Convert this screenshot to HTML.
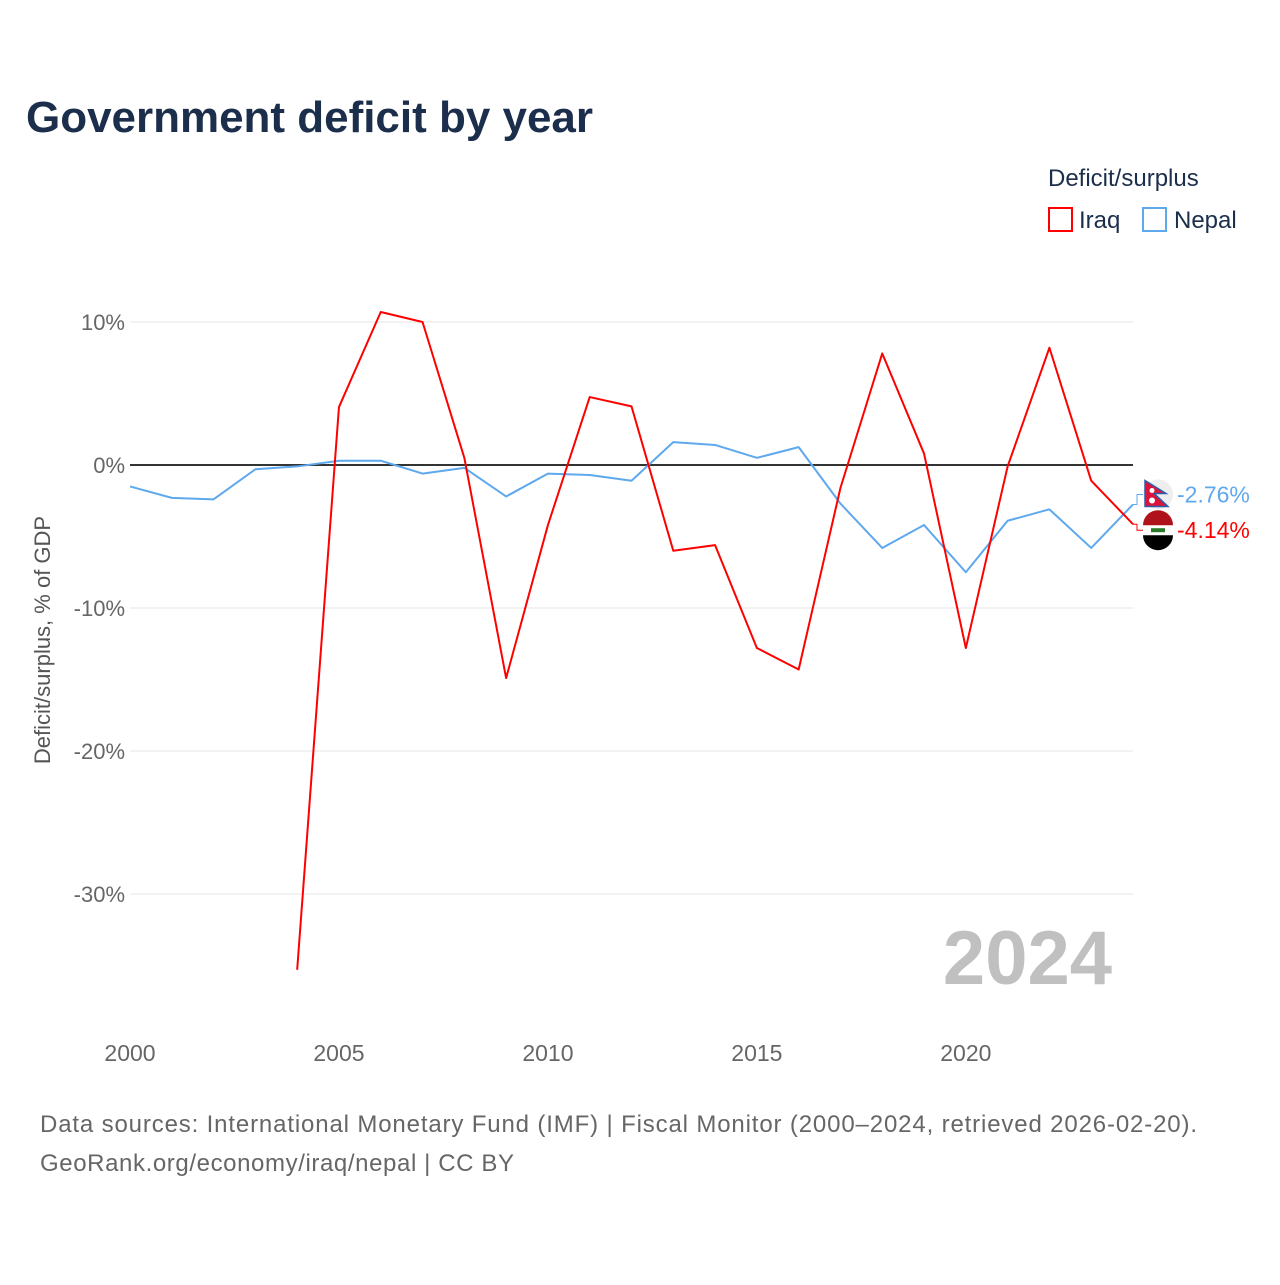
<!DOCTYPE html>
<html><head><meta charset="utf-8">
<style>
body{margin:0;background:#fff;font-family:"Liberation Sans",sans-serif;}
svg text{font-family:"Liberation Sans",sans-serif;}
</style></head>
<body>
<svg width="1280" height="1280" xmlns="http://www.w3.org/2000/svg">
<text x="26" y="132" font-size="44" font-weight="bold" fill="#1b2e4b" textLength="567">Government deficit by year</text>
<text x="1048" y="186" font-size="24" fill="#1b2e4b">Deficit/surplus</text>
<g><rect x="1049" y="208" width="23" height="23" fill="none" stroke="#f00" stroke-width="2"/><text x="1079" y="228" font-size="24" fill="#1b2e4b">Iraq</text></g>
<g><rect x="1143" y="208" width="23" height="23" fill="none" stroke="#5ea8ee" stroke-width="2"/><text x="1174" y="228" font-size="24" fill="#1b2e4b">Nepal</text></g>
<g id="grid"></g>
<g id="xt"></g>
<text transform="translate(50,640) rotate(-90)" text-anchor="middle" font-size="22" fill="#555">Deficit/surplus, % of GDP</text>
<text x="1112" y="984" text-anchor="end" font-size="76" font-weight="bold" fill="#c0c0c0">2024</text>
<g id="series"></g>
<text x="40" y="1132" font-size="24" fill="#666" textLength="1157">Data sources: International Monetary Fund (IMF) | Fiscal Monitor (2000–2024, retrieved 2026-02-20).</text>
<text x="40" y="1171" font-size="24" fill="#666" textLength="474">GeoRank.org/economy/iraq/nepal | CC BY</text>
</svg>
<script>
const yTicks=[10,0,-10,-20,-30];
const yTickLabels=["10%","0%","-10%","-20%","-30%"];
const xTicks=[2000,2005,2010,2015,2020];
const iraqYears=[2004,2005,2006,2007,2008,2009,2010,2011,2012,2013,2014,2015,2016,2017,2018,2019,2020,2021,2022,2023,2024];
const iraqValues=[-35.3,4.05,10.7,10.0,0.5,-14.9,-4.2,4.75,4.1,-6.0,-5.6,-12.8,-14.3,-1.6,7.8,0.8,-12.8,-0.1,8.2,-1.1,-4.14];
const nepalYears=[2000,2001,2002,2003,2004,2005,2006,2007,2008,2009,2010,2011,2012,2013,2014,2015,2016,2017,2018,2019,2020,2021,2022,2023,2024];
const nepalValues=[-1.5,-2.3,-2.4,-0.3,-0.1,0.3,0.3,-0.6,-0.2,-2.2,-0.6,-0.7,-1.1,1.6,1.4,0.5,1.25,-2.7,-5.8,-4.2,-7.5,-3.9,-3.1,-5.8,-2.76];
const NS="http://www.w3.org/2000/svg";
const X=y=>130+(y-2000)*(1003/24);
const Y=v=>465-v*14.3;
function mk(t,a,p){const e=document.createElementNS(NS,t);for(const k in a)e.setAttribute(k,a[k]);p.appendChild(e);return e;}
const g=document.getElementById('grid');
yTicks.forEach((v,i)=>{
 const l=mk('line',{x1:130,x2:1133,y1:Y(v),y2:Y(v),stroke:v===0?'#333':'#e4e4e4','stroke-width':v===0?2:1},g);
 
 
 const t=mk('text',{x:125,y:Y(v)+8,'text-anchor':'end','font-size':22,fill:'#666'},g);
 t.textContent=yTickLabels[i];
 
 
});
const xt=document.getElementById('xt');
xTicks.forEach(v=>{
 const t=mk('text',{x:X(v),y:1061,'text-anchor':'middle','font-size':23,fill:'#666'},xt);
 t.textContent=v;
 
 
});
const s=document.getElementById('series');
function line(ys,vs,c,name){
 const p=mk('polyline',{points:ys.map((y,i)=>X(y)+','+Y(vs[i])).join(' '),fill:'none',stroke:c,'stroke-width':2,'stroke-linejoin':'round'},s);
 
 
}
line(nepalYears,nepalValues,'#5ea8ee','nepal-line');
line(iraqYears,iraqValues,'#f00','iraq-line');
const lastN=nepalValues[nepalValues.length-1],lastI=iraqValues[iraqValues.length-1];
const xe=X(2024);
const nl=Y(lastN)-10, il=Y(lastI)+6;
mk('polyline',{points:`${xe},${Y(lastN)} ${xe+4},${Y(lastN)} ${xe+4},${nl} ${xe+12},${nl}`,fill:'none',stroke:'#5ea8ee','stroke-width':1},s);
mk('polyline',{points:`${xe},${Y(lastI)} ${xe+4},${Y(lastI)} ${xe+4},${il} ${xe+12},${il}`,fill:'none',stroke:'#f00','stroke-width':1},s);
const fn=mk('g',{},s);


mk('circle',{cx:1158,cy:nl,r:15,fill:'#eee'},fn);
mk('path',{d:`M1145 ${nl-14} L1166 ${nl-1} L1154 ${nl-1} L1168 ${nl+12} L1145 ${nl+12}Z`,fill:'#dc143c',stroke:'#2b5fa8','stroke-width':1.5},fn);
mk('circle',{cx:1152,cy:nl-4,r:2.5,fill:'#fff'},fn);
mk('circle',{cx:1152,cy:nl+6,r:3,fill:'#fff'},fn);
const fi=mk('g',{},s);


mk('circle',{cx:1158,cy:il,r:15,fill:'#fff'},fi);
mk('path',{d:`M1143 ${il-5} A15 15 0 0 1 1173 ${il-5}Z`,fill:'#b0121b'},fi);
mk('path',{d:`M1143 ${il+5} A15 15 0 0 0 1173 ${il+5}Z`,fill:'#000'},fi);
mk('rect',{x:1151,y:il-2,width:14,height:4,fill:'#2a7a2a'},fi);
const tn=mk('text',{x:1177,y:nl+8,'font-size':23,fill:'#5ea8ee'},s);
tn.textContent=lastN.toFixed(2)+'%';


const ti=mk('text',{x:1177,y:il+8,'font-size':23,fill:'#f00'},s);
ti.textContent=lastI.toFixed(2)+'%';


</script>
</body></html>
